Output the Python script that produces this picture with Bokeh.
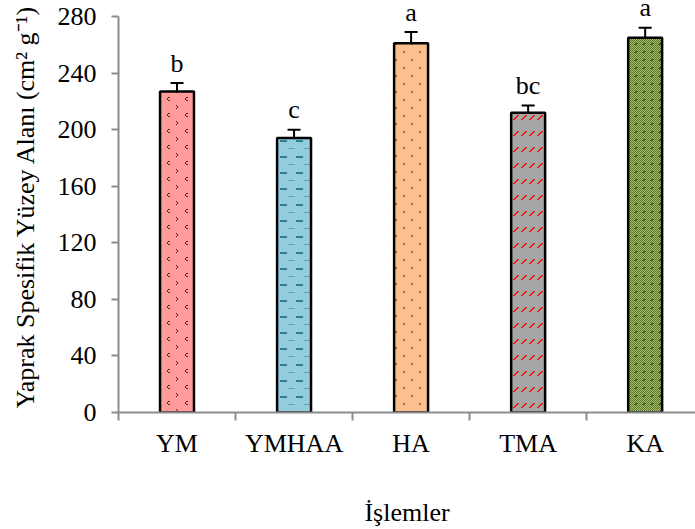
import base64
import struct
import zlib

from bokeh.plotting import figure
from bokeh.models import (Range1d, FixedTicker, CustomJSTickFormatter, ColumnDataSource,
                          Whisker, TeeHead, LabelSet, ImageURLTexture)
from bokeh.embed import file_html
from bokeh.resources import INLINE

# ---- data ----
categories = ["YM", "YMHAA", "HA", "TMA", "KA"]
means = [227, 194, 261, 212, 265]
errors = [6, 6, 8, 5, 7]
letters = ["b", "c", "a", "bc", "a"]
y_ticks = [0, 40, 80, 120, 160, 200, 240, 280]

fill_colors = ["#FF9B9B", "#93CDDD", "#FAC090", "#A6A6A6", "#8FAA55"]

FONT = "Liberation Serif"
AXIS_GRAY = "#8C8C8C"


# ---- small pattern textures (Excel-like pattern fills) ----
def hex_rgb(h):
    h = h.lstrip("#")
    return tuple(int(h[i:i + 2], 16) for i in (0, 2, 4))


def png_url(w, h, bg, marks):
    """marks: list of (color, [(x, y), ...]) painted in order"""
    px = [[hex_rgb(bg) + (255,) for _ in range(w)] for _ in range(h)]
    for col, pts in marks:
        c = hex_rgb(col) + (255,)
        for (x, y) in pts:
            px[y % h][x % w] = c
    raw = b"".join(b"\x00" + bytes(v for p_ in row for v in p_) for row in px)

    def chunk(t, d):
        return struct.pack(">I", len(d)) + t + d + struct.pack(">I", zlib.crc32(t + d) & 0xFFFFFFFF)

    png = (b"\x89PNG\r\n\x1a\n"
           + chunk(b"IHDR", struct.pack(">IIBBBBB", w, h, 8, 6, 0, 0, 0))
           + chunk(b"IDAT", zlib.compress(raw))
           + chunk(b"IEND", b""))
    return "data:image/png;base64," + base64.b64encode(png).decode()


c_shape = [(1, 0), (2, 0), (0, 1), (0, 2), (1, 3), (2, 3)]
gt_shape = [(0, 0), (1, 1), (1, 2), (0, 3)]
ym_marks = [(x + 5, y + 1) for x, y in c_shape] + [(x + 14, y + 9) for x, y in gt_shape]
tex_ym = png_url(18, 16, fill_colors[0], [("#5E2020", ym_marks)])

dash1 = [(x, 4) for x in range(0, 7)]
dash2 = [(x, y) for x in range(8, 15) for y in (12, 13)]
tex_ymhaa = png_url(16, 16, fill_colors[1], [("#5FA8BE", dash1), ("#2F7E96", dash2)])

dots = [(x, y) for x in (3, 4) for y in (3, 4)] + [(x, y) for x in (11, 12) for y in (11, 12)]
tex_ha = png_url(16, 16, fill_colors[2], [("#B8621E", dots)])

stroke = [(1, 7), (2, 6), (3, 5), (4, 4), (5, 3), (2, 7), (3, 6), (4, 5), (5, 4), (6, 3)]
tex_tma = png_url(8, 16, fill_colors[3], [("#FF1010", stroke)])

check = [(x, y) for x in range(8) for y in range(8) if (x + y) % 2 == 0]
spots = [(3, 3), (4, 4), (4, 3), (3, 4)]
tex_ka = png_url(8, 8, "#A8C36A", [("#55702A", check), ("#3E5220", spots)])

textures = {"ym": tex_ym, "ymhaa": tex_ymhaa, "ha": tex_ha, "tma": tex_tma, "ka": tex_ka}
hatch_names = ["ym", "ymhaa", "ha", "tma", "ka"]

xs = [i + 0.5 for i in range(len(categories))]
src = ColumnDataSource(dict(
    x=xs, top=means, lower=[m - e for m, e in zip(means, errors)],
    upper=[m + e for m, e in zip(means, errors)],
    lab_y=[m + e + 8 for m, e in zip(means, errors)],
    letters=letters, fill=fill_colors, hpat=hatch_names,
))

p = figure(width=695, height=529, output_backend="svg", toolbar_location=None,
           x_range=Range1d(0, 4.93), y_range=Range1d(0, 291.3),
           min_border_left=118, min_border_right=0, min_border_top=0,
           min_border_bottom=116)
p.outline_line_color = None
p.grid.visible = False
p.background_fill_color = "white"

p.vbar(x="x", top="top", bottom=0, width=0.29, source=src,
       fill_color="fill", line_color="black", line_width=2.5,
       hatch_pattern="hpat",
       hatch_extra={k: ImageURLTexture(url=u, repetition="repeat") for k, u in textures.items()})

w = Whisker(base="x", lower="lower", upper="upper", source=src,
            line_color="black", line_width=2,
            upper_head=TeeHead(size=13, line_width=2, line_color="black"),
            lower_head=TeeHead(size=13, line_width=2, line_color="black"))
p.add_layout(w)

labels = LabelSet(x="x", y="lab_y", text="letters", source=src,
                  text_align="center", text_baseline="alphabetic",
                  text_font=FONT, text_font_size="26px", text_color="black")
p.add_layout(labels)

# x axis
xa = p.xaxis[0]
xa.ticker = FixedTicker(ticks=xs, minor_ticks=list(range(len(categories) + 1)))
xa.formatter = CustomJSTickFormatter(args=dict(labels=categories),
                                     code="return labels[Math.floor(tick)];")
xa.major_tick_out = 0
xa.major_tick_in = 0
xa.minor_tick_out = 8
xa.minor_tick_in = 0
xa.minor_tick_line_color = AXIS_GRAY
xa.minor_tick_line_width = 2
xa.axis_line_color = AXIS_GRAY
xa.axis_line_width = 2
xa.major_label_text_font = FONT
xa.major_label_text_font_size = "26px"
xa.major_label_text_color = "black"
xa.major_label_standoff = 8
xa.axis_label = "İşlemler"
xa.axis_label_text_font = FONT
xa.axis_label_text_font_size = "26px"
xa.axis_label_text_font_style = "normal"
xa.axis_label_text_color = "black"
xa.axis_label_standoff = 37

# y axis
ya = p.yaxis[0]
ya.ticker = FixedTicker(ticks=y_ticks)
ya.bounds = (y_ticks[0], y_ticks[-1])
ya.major_tick_out = 7
ya.major_tick_in = 0
ya.minor_tick_out = 0
ya.minor_tick_in = 0
ya.major_tick_line_color = AXIS_GRAY
ya.major_tick_line_width = 2
ya.axis_line_color = AXIS_GRAY
ya.axis_line_width = 2
ya.major_label_text_font = FONT
ya.major_label_text_font_size = "26px"
ya.major_label_text_color = "black"
ya.major_label_standoff = 15
ya.axis_label = "Yaprak Spesifik Yüzey Alanı (cm² g⁻¹)"
ya.axis_label_text_font = FONT
ya.axis_label_text_font_size = "26px"
ya.axis_label_text_font_style = "normal"
ya.axis_label_text_color = "black"
ya.axis_label_standoff = 15

open("out.html", "w").write(file_html(p, INLINE))
